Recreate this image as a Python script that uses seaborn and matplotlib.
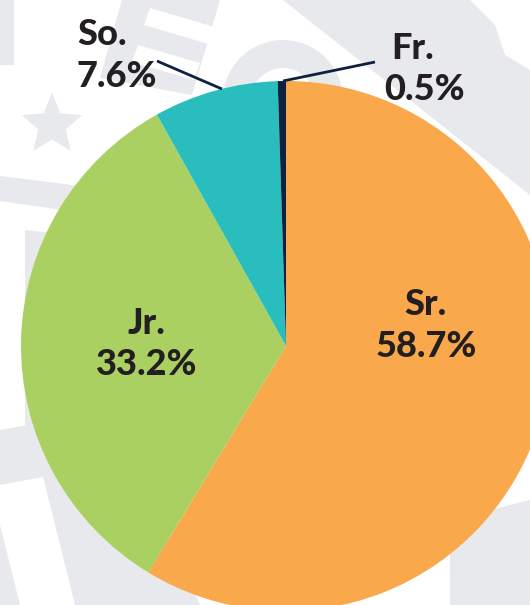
import matplotlib.pyplot as plt
import seaborn as sns
from matplotlib.patches import Polygon, Wedge
import numpy as np

# data
classes = ['Sr.', 'Jr.', 'So.', 'Fr.']
shares = [58.7, 33.2, 7.6, 0.5]
share_labels = ['58.7%', '33.2%', '7.6%', '0.5%']
slice_colors = ['#F9A84B', '#AAD062', '#29BEBD', '#0E2240']

W, H = 530, 605
BG = '#E8E9ED'
INK = '#231F20'

sns.set_theme(style='white')
plt.rcParams['font.family'] = ['Lato', 'DejaVu Sans']

fig = plt.figure(figsize=(5.3, 6.05), dpi=100)
ax = fig.add_axes([0, 0, 1, 1])


def px(pts):
    # pixel coords (y down) -> data coords (y up)
    return [(x, H - y) for x, y in pts]


# faint background watermark shapes
shapes = [
    [(0, 0), (14, 0), (14, 65), (0, 65)],
    [(122, 0), (220, 0), (192, 95), (100, 78)],
    [(283, 0), (470, 0), (495, 25), (505, 55), (530, 70), (530, 195)],
    [(0, 176), (80, 186), (76, 212), (0, 201)],
    [(25, 230), (120, 240), (120, 425), (25, 425)],
    [(0, 430), (110, 410), (200, 605), (0, 605)],
    [(450, 520), (530, 500), (530, 605), (450, 605)],
]
for s in shapes:
    ax.add_patch(Polygon(px(s), closed=True, color=BG, lw=0, zorder=0))
# white stripes in the "E" and bottom-left block
for s in [[(150, 8), (218, 28), (212, 45), (144, 25)],
          [(138, 45), (200, 63), (194, 80), (132, 62)],
          [(0, 485), (43, 477), (75, 605), (20, 605), (0, 525)]]:
    ax.add_patch(Polygon(px(s), closed=True, color='white', lw=0, zorder=0.5))
# ring above the pie and the star
ax.add_patch(Wedge((283, H - 100), 60, 0, 360, width=28, color=BG, lw=0, zorder=0))
star = [(52 + 32 * np.cos(np.radians(90 + 36 * k)) * (1 if k % 2 == 0 else 0.45),
         H - 125 + 32 * np.sin(np.radians(90 + 36 * k)) * (1 if k % 2 == 0 else 0.45))
        for k in range(10)]
ax.add_patch(Polygon(star, closed=True, color=BG, lw=0, zorder=0))

# pie
wedges, _ = ax.pie(shares, colors=slice_colors, startangle=90, counterclock=False,
                   center=(286, H - 346), radius=265, frame=True,
                   wedgeprops=dict(linewidth=0, zorder=2))

# leader lines
ax.plot(*zip(*px([(157, 61), (222, 89)])), color='#0E2240', lw=2, zorder=3,
        solid_capstyle='butt')
ax.plot(*zip(*px([(283, 81), (375, 62)])), color='#0E2240', lw=2, zorder=3,
        solid_capstyle='butt')

# labels: (name x, name baseline, pct x, pct baseline, ha)
label_pos = {
    'Sr.': (425, 315, 426, 357, 'center'),
    'Jr.': (146, 334, 147, 375, 'center'),
    'So.': (77, 45, 77, 87, 'left'),
    'Fr.': (413, 59, 425, 100, 'center'),
}
for name, pct in zip(classes, share_labels):
    x1, y1, x2, y2, ha = label_pos[name]
    ax.text(x1, H - y1, name, ha=ha, va='baseline', fontsize=26,
            fontweight='black', color=INK, zorder=4)
    ax.text(x2, H - y2, pct, ha=ha, va='baseline', fontsize=26,
            fontweight='black', color=INK, zorder=4)

ax.set_xlim(0, W)
ax.set_ylim(0, H)
ax.set_aspect('equal')
ax.axis('off')

fig.savefig('out.png', dpi=100, facecolor='white')
